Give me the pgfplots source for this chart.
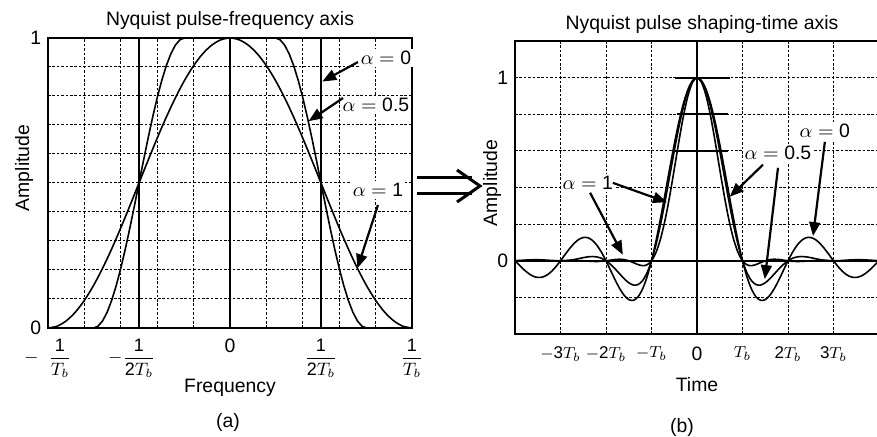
\documentclass[border=0pt]{standalone}
\usepackage{fontspec}
\setmainfont{Liberation Sans}
\usepackage{amsmath}
\usepackage{pgfplots}
\pgfplotsset{compat=1.18}
\usetikzlibrary{arrows.meta}

\tikzset{
  gridd/.style={line width=0.5pt, dash pattern=on 1.3pt off 0.9pt, black},
  arr/.style={line width=1.1pt, -{Triangle[length=7pt,width=5.5pt]}},
}
\pgfplotsset{
  common/.style={
    anchor=south west, scale only axis, clip=false,
    axis line style={line width=1pt},
    major tick length=0pt, minor tick length=0pt,
    xminorgrids, yminorgrids,
    minor grid style={gridd},
    tick label style={font=\fontsize{9.7}{11}\selectfont},
    xticklabel style={anchor=north, yshift=-3pt},
  },
}

\begin{document}
\fontsize{9.7}{11.6}\selectfont
\begin{tikzpicture}
\path[use as bounding box] (0,0) rectangle (438.5pt,-218.5pt);

% ---------- (a) frequency axis ----------
\begin{axis}[common,
  at={(24pt,-164pt)}, width=182pt, height=145pt,
  xmin=-1, xmax=1, ymin=0, ymax=1,
  xtick={-1,-0.5,0,0.5,1},
  xticklabel style={font=\fontsize{9}{10}\selectfont, yshift=1pt},
  xticklabels={{\hspace*{12pt}\llap{$-$\hspace{5pt}}$\dfrac{\text{1}}{T_b}$},
               {\llap{$-$}$\dfrac{\text{1}}{\text{2}T_b}$},
               {\fontsize{9.7}{11}\selectfont 0},
               {$\dfrac{\text{1}}{\text{2}T_b}$},
               {$\dfrac{\text{1}}{T_b}$}},
  ytick={0,1}, yticklabels={0,1},
  minor xtick={-0.8,-0.6,-0.4,-0.2,0.2,0.4,0.6,0.8},
  minor ytick={0.1,0.2,0.3,0.4,0.5,0.6,0.7,0.8,0.9},
]
\addplot[black, line width=0.8pt] coordinates {(0,0)(0,1)};
% alpha = 0
\addplot[black, line width=1pt] coordinates {(-1,0)(-0.5,0)(-0.5,1)(0.5,1)(0.5,0)(1,0)};
% alpha = 0.5
\addplot[black, line width=0.8pt] coordinates {
(-1,0)(-0.75,0)(-0.725,0.00616)(-0.7,0.02447)(-0.675,0.05450)(-0.65,0.09549)(-0.625,0.14645)
(-0.6,0.20611)(-0.575,0.27300)(-0.55,0.34549)(-0.525,0.42178)(-0.5,0.5)(-0.475,0.57822)
(-0.45,0.65451)(-0.425,0.72700)(-0.4,0.79389)(-0.375,0.85355)(-0.35,0.90451)(-0.325,0.94550)
(-0.3,0.97553)(-0.275,0.99384)(-0.25,1)(0.25,1)(0.275,0.99384)(0.3,0.97553)(0.325,0.94550)
(0.35,0.90451)(0.375,0.85355)(0.4,0.79389)(0.425,0.72700)(0.45,0.65451)(0.475,0.57822)
(0.5,0.5)(0.525,0.42178)(0.55,0.34549)(0.575,0.27300)(0.6,0.20611)(0.625,0.14645)
(0.65,0.09549)(0.675,0.05450)(0.7,0.02447)(0.725,0.00616)(0.75,0)(1,0)};
% alpha = 1
\addplot[black, line width=0.8pt, smooth] coordinates {
(-1,0)(-0.95,0.00616)(-0.9,0.02447)(-0.85,0.05450)(-0.8,0.09549)(-0.75,0.14645)(-0.7,0.20611)
(-0.65,0.27300)(-0.6,0.34549)(-0.55,0.42178)(-0.5,0.5)(-0.45,0.57822)(-0.4,0.65451)
(-0.35,0.72700)(-0.3,0.79389)(-0.25,0.85355)(-0.2,0.90451)(-0.15,0.94550)(-0.1,0.97553)
(-0.05,0.99384)(0,1)(0.05,0.99384)(0.1,0.97553)(0.15,0.94550)(0.2,0.90451)(0.25,0.85355)
(0.3,0.79389)(0.35,0.72700)(0.4,0.65451)(0.45,0.57822)(0.5,0.5)(0.55,0.42178)(0.6,0.34549)
(0.65,0.27300)(0.7,0.20611)(0.75,0.14645)(0.8,0.09549)(0.85,0.05450)(0.9,0.02447)
(0.95,0.00616)(1,0)};
\node[fill=white, inner sep=1pt] at (axis cs:0.857,0.931) {$\alpha=\text{0}$};
\node[fill=white, inner sep=1pt] at (axis cs:0.802,0.769) {$\alpha=\text{0.5}$};
\node[fill=white, inner sep=1pt] at (axis cs:0.813,0.476) {$\alpha=\text{1}$};
\draw[arr] (axis cs:0.703,0.917) -- (axis cs:0.507,0.85);
\draw[arr] (axis cs:0.621,0.793) -- (axis cs:0.432,0.713);
\draw[arr] (axis cs:0.813,0.424) -- (axis cs:0.70,0.206);
\end{axis}

% ---------- (b) time axis ----------
\begin{axis}[common,
  at={(257.5pt,-167pt)}, width=182pt, height=146.4pt,
  xmin=-4, xmax=4, ymin=-0.4, ymax=1.2,
  xtick={-3,-2,-1,0,1,2,3},
  xticklabel style={font=\fontsize{8.5}{10}\selectfont},
  xticklabels={$-\text{3}T_b$, $-\text{2}T_b$, $-T_b$, {\fontsize{9.7}{11}\selectfont 0}, $T_b$, $\text{2}T_b$, $\text{3}T_b$},
  ytick={0,1}, yticklabels={0,1},
  minor xtick={-3,-2,-1,1,2,3},
  minor ytick={-0.2,0.2,0.4,0.6,0.8,1},
]
\addplot[black, line width=0.8pt] coordinates {(0,-0.4)(0,1.2)};
\addplot[black, line width=0.8pt] coordinates {(-4,0)(4,0)};
\addplot[black, line width=1pt] coordinates {(-0.48,1)(0.73,1)};
\addplot[black, line width=1pt] coordinates {(-0.44,0.8)(0.68,0.8)};
\addplot[black, line width=1pt] coordinates {(-0.5,0.6)(0.68,0.6)};
% alpha = 0
\addplot[black, line width=0.8pt, smooth] coordinates {
(-4,0)(-3.9,-0.02522)(-3.8,-0.04924)(-3.7,-0.06960)(-3.6,-0.08409)(-3.5,-0.09095)(-3.4,-0.08904)
(-3.3,-0.07804)(-3.2,-0.05847)(-3.1,-0.03173)(-3,0)(-2.9,0.03392)(-2.8,0.06682)(-2.7,0.09538)
(-2.6,0.11644)(-2.5,0.12732)(-2.4,0.12614)(-2.3,0.11196)(-2.2,0.08505)(-2.1,0.04684)(-2,0)
(-1.9,-0.05177)(-1.8,-0.10394)(-1.7,-0.15148)(-1.6,-0.18921)(-1.5,-0.21221)(-1.4,-0.21624)
(-1.3,-0.19809)(-1.2,-0.15592)(-1.1,-0.08942)(-1,0)(-0.9,0.10929)(-0.8,0.23387)(-0.7,0.36788)
(-0.6,0.50455)(-0.5,0.63662)(-0.4,0.75683)(-0.3,0.85839)(-0.2,0.93549)(-0.1,0.98363)(0,1)
(0.1,0.98363)(0.2,0.93549)(0.3,0.85839)(0.4,0.75683)(0.5,0.63662)(0.6,0.50455)(0.7,0.36788)
(0.8,0.23387)(0.9,0.10929)(1,0)(1.1,-0.08942)(1.2,-0.15592)(1.3,-0.19809)(1.4,-0.21624)
(1.5,-0.21221)(1.6,-0.18921)(1.7,-0.15148)(1.8,-0.10394)(1.9,-0.05177)(2,0)(2.1,0.04684)
(2.2,0.08505)(2.3,0.11196)(2.4,0.12614)(2.5,0.12732)(2.6,0.11644)(2.7,0.09538)(2.8,0.06682)
(2.9,0.03392)(3,0)(3.1,-0.03173)(3.2,-0.05847)(3.3,-0.07804)(3.4,-0.08904)(3.5,-0.09095)
(3.6,-0.08409)(3.7,-0.06960)(3.8,-0.04924)(3.9,-0.02522)(4,0)};
% alpha = 0.5
\addplot[black, line width=0.8pt, smooth] coordinates {
(-4,0)(-3.9,0.00175)(-3.8,0.00348)(-3.7,0.00489)(-3.6,0.00569)(-3.5,0.00572)(-3.4,0.00496)
(-3.3,0.00358)(-3.2,0.00196)(-3.1,0.00058)(-3,0)(-2.9,0.00072)(-2.8,0.00302)(-2.7,0.00688)
(-2.6,0.01188)(-2.5,0.01715)(-2.4,0.02144)(-2.3,0.02325)(-2.2,0.02106)(-2.1,0.01357)(-2,0)
(-1.9,-0.01959)(-1.8,-0.04413)(-1.7,-0.07141)(-1.6,-0.09813)(-1.5,-0.12004)(-1.4,-0.13240)
(-1.3,-0.13033)(-1.2,-0.10950)(-1.1,-0.06661)(-1,0)(-0.9,0.08998)(-0.8,0.20075)(-0.7,0.32748)
(-0.6,0.46339)(-0.5,0.60021)(-0.4,0.72892)(-0.3,0.84048)(-0.2,0.92678)(-0.1,0.98133)(0,1)
(0.1,0.98133)(0.2,0.92678)(0.3,0.84048)(0.4,0.72892)(0.5,0.60021)(0.6,0.46339)(0.7,0.32748)
(0.8,0.20075)(0.9,0.08998)(1,0)(1.1,-0.06661)(1.2,-0.10950)(1.3,-0.13033)(1.4,-0.13240)
(1.5,-0.12004)(1.6,-0.09813)(1.7,-0.07141)(1.8,-0.04413)(1.9,-0.01959)(2,0)(2.1,0.01357)
(2.2,0.02106)(2.3,0.02325)(2.4,0.02144)(2.5,0.01715)(2.6,0.01188)(2.7,0.00688)(2.8,0.00302)
(2.9,0.00072)(3,0)(3.1,0.00058)(3.2,0.00196)(3.3,0.00358)(3.4,0.00496)(3.5,0.00572)
(3.6,0.00569)(3.7,0.00489)(3.8,0.00348)(3.9,0.00175)(4,0)};
% alpha = 1
\addplot[black, line width=0.8pt, smooth] coordinates {
(-4,0)(-3.9,0.0004)(-3.8,0.0007)(-3.7,0.00076)(-3.6,0.00051)(-3.5,0)(-3.4,-0.00061)
(-3.3,-0.00108)(-3.2,-0.00118)(-3.1,-0.00081)(-3,0)(-2.9,0.00099)(-2.8,0.00178)(-2.7,0.00199)
(-2.6,0.00138)(-2.5,0)(-2.4,-0.00177)(-2.3,-0.00326)(-2.2,-0.00375)(-2.1,-0.00268)(-2,0)
(-1.9,0.00366)(-1.8,0.00703)(-1.7,0.00843)(-1.6,0.00633)(-1.5,0)(-1.4,-0.00977)(-1.3,-0.02022)
(-1.2,-0.02650)(-1.1,-0.02215)(-1,0)(-0.9,0.04640)(-0.8,0.12129)(-0.7,0.22525)(-0.6,0.35436)
(-0.5,0.5)(-0.4,0.64964)(-0.3,0.78836)(-0.2,0.90099)(-0.1,0.97447)(0,1)(0.1,0.97447)
(0.2,0.90099)(0.3,0.78836)(0.4,0.64964)(0.5,0.5)(0.6,0.35436)(0.7,0.22525)(0.8,0.12129)
(0.9,0.04640)(1,0)(1.1,-0.02215)(1.2,-0.02650)(1.3,-0.02022)(1.4,-0.00977)(1.5,0)
(1.6,0.00633)(1.7,0.00843)(1.8,0.00703)(1.9,0.00366)(2,0)(2.1,-0.00268)(2.2,-0.00375)
(2.3,-0.00326)(2.4,-0.00177)(2.5,0)(2.6,0.00138)(2.7,0.00199)(2.8,0.00178)(2.9,0.00099)
(3,0)(3.1,-0.00081)(3.2,-0.00118)(3.3,-0.00108)(3.4,-0.00061)(3.5,0)(3.6,0.00051)
(3.7,0.00076)(3.8,0.0007)(3.9,0.0004)(4,0)};
\node[fill=white, inner sep=1pt] at (axis cs:2.81,0.71) {$\alpha=\text{0}$};
\node[fill=white, inner sep=1pt] at (axis cs:1.78,0.59) {$\alpha=\text{0.5}$};
\node[fill=white, inner sep=1pt] at (axis cs:-2.40,0.426) {$\alpha=\text{1}$};
\draw[arr] (axis cs:2.81,0.65) -- (axis cs:2.55,0.135);
\draw[arr] (axis cs:1.45,0.525) -- (axis cs:0.72,0.35);
\draw[arr] (axis cs:1.78,0.508) -- (axis cs:1.49,-0.10);
\draw[arr] (axis cs:-1.85,0.426) -- (axis cs:-0.66,0.32);
\draw[arr] (axis cs:-2.35,0.372) -- (axis cs:-1.63,0.033);
\end{axis}

% ---------- texts and double arrow ----------
\node at (115pt,-10pt) {Nyquist pulse-frequency axis};
\node at (351pt,-12pt) {Nyquist pulse shaping-time axis};
\node[rotate=90] at (12pt,-84pt) {Amplitude};
\node[rotate=90] at (246pt,-91.5pt) {Amplitude};
\node at (115pt,-194pt) {Frequency};
\node at (348.5pt,-192.5pt) {Time};
\node at (114pt,-211pt) {(a)};
\node at (341pt,-213.5pt) {(b)};
\draw[line width=1.5pt] (208.5pt,-89pt) -- (236pt,-89pt);
\draw[line width=1.5pt] (208.5pt,-97pt) -- (236pt,-97pt);
\draw[line width=1.5pt, line join=miter] (228.5pt,-85pt) -- (240pt,-93pt) -- (228.5pt,-101pt);
\end{tikzpicture}
\end{document}
